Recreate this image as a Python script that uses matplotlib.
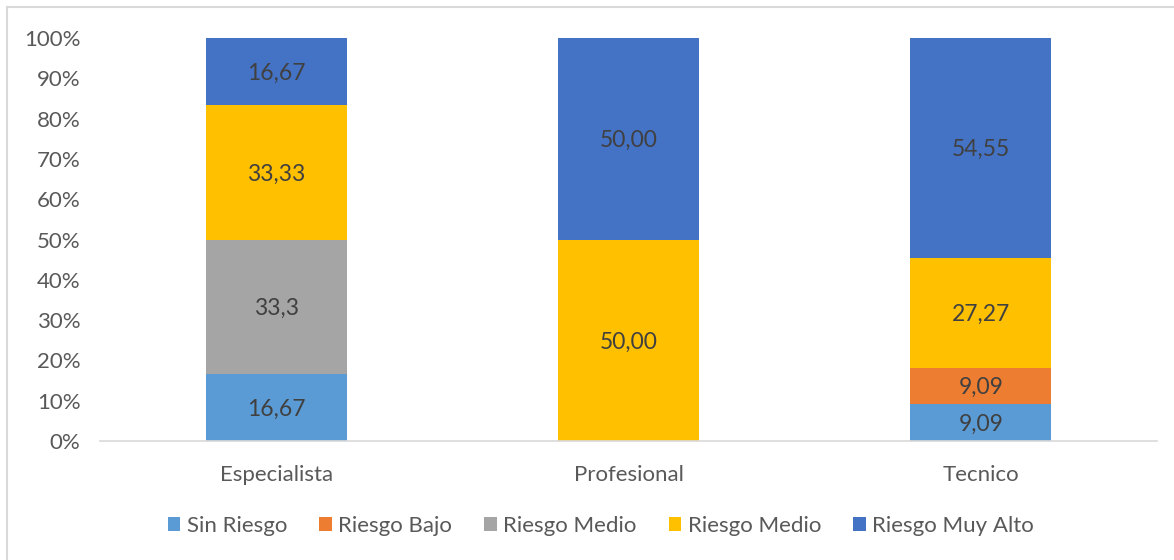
import matplotlib.pyplot as plt
import numpy as np
from matplotlib.patches import Rectangle

plt.rcParams['font.family'] = ['Lato', 'DejaVu Sans']

categories = ['Especialista', 'Profesional', 'Tecnico']
series_names = ['Sin Riesgo', 'Riesgo Bajo', 'Riesgo Medio', 'Riesgo Medio', 'Riesgo Muy Alto']
sin_riesgo = [16.67, 0, 9.09]
riesgo_bajo = [0, 0, 9.09]
riesgo_medio_gris = [33.3, 0, 0]
riesgo_medio = [33.33, 50.00, 27.27]
riesgo_muy_alto = [16.67, 50.00, 54.55]
label_text = [
    ['16,67', '', '9,09'],
    ['', '', '9,09'],
    ['33,3', '', ''],
    ['33,33', '50,00', '27,27'],
    ['16,67', '50,00', '54,55'],
]
colors = ['#5B9BD5', '#ED7D31', '#A5A5A5', '#FFC000', '#4472C4']

data = np.array([sin_riesgo, riesgo_bajo, riesgo_medio_gris, riesgo_medio, riesgo_muy_alto])
pct = data / data.sum(axis=0) * 100

fig = plt.figure(figsize=(11.74, 5.6), dpi=100)
ax = fig.add_axes([100 / 1174, 119 / 560, 1057 / 1174, 403 / 560])

# chart frame
fig.patches.append(Rectangle((7 / 1174, -0.1), 1.2, 553 / 560 + 0.1,
                             transform=fig.transFigure, fill=False,
                             edgecolor='#D9D9D9', linewidth=1.5))

x = np.arange(len(categories))
bottom = np.zeros(len(categories))
handles = []
for i, name in enumerate(series_names):
    bars = ax.bar(x, pct[i], 0.4, bottom=bottom, color=colors[i], label=name)
    handles.append(bars)
    for j in range(len(categories)):
        if data[i, j] > 0:
            ax.text(x[j], bottom[j] + pct[i, j] / 2 - 0.4, label_text[i][j],
                    ha='center', va='center', fontsize=16.5, color='#404040')
    bottom += pct[i]

ax.set_xlim(-0.5, 2.5)
ax.set_ylim(0, 100)
ax.set_yticks(np.arange(0, 101, 10))
ax.set_yticklabels([f'{v}%' for v in range(0, 101, 10)])
ax.set_xticks(x)
ax.set_xticklabels(categories)
ax.tick_params(axis='both', length=0, labelsize=16, colors='#595959')
ax.tick_params(axis='y', pad=14)
ax.tick_params(axis='x', pad=17)
for side in ['top', 'right', 'left']:
    ax.spines[side].set_visible(False)
ax.spines['bottom'].set_color('#D9D9D9')
ax.spines['bottom'].set_linewidth(1.2)

leg = fig.legend(handles=handles, loc='center', bbox_to_anchor=(601 / 1174, 1 - 526 / 560),
                 ncol=5, frameon=False, fontsize=16, handlelength=0.55, handleheight=0.55,
                 handletextpad=0.3, columnspacing=1.45)
for t in leg.get_texts():
    t.set_color('#595959')

fig.savefig('out.png', dpi=100)
